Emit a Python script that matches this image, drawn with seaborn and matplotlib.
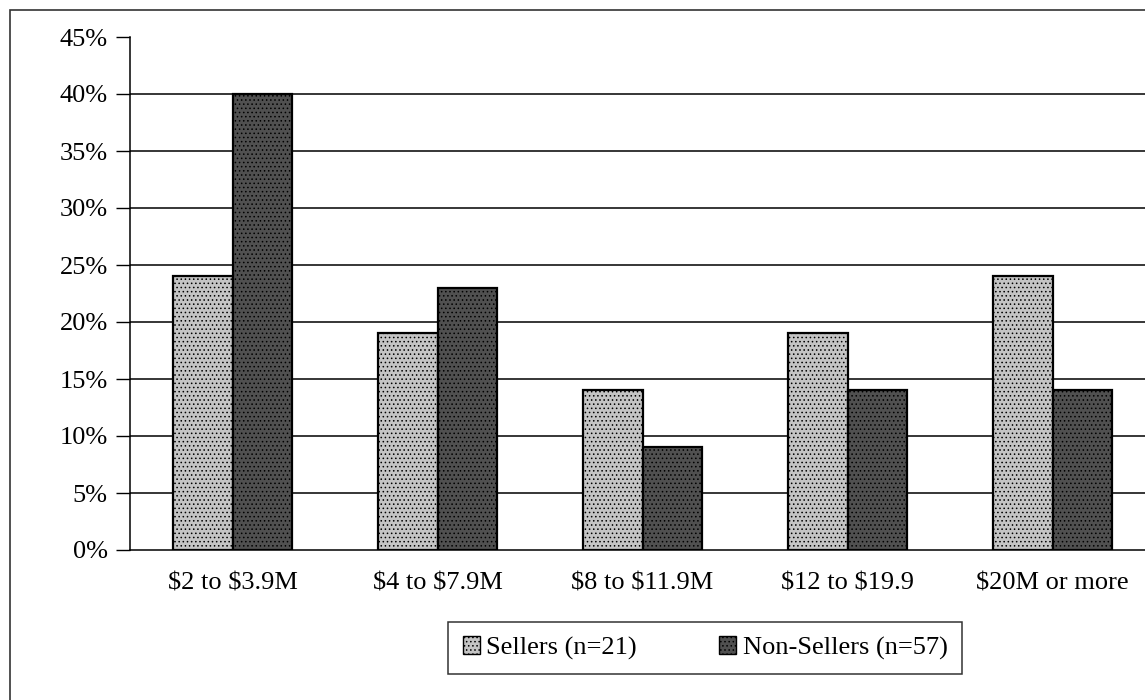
import numpy as np
import pandas as pd
import matplotlib
matplotlib.use("Agg")
import matplotlib.pyplot as plt
import matplotlib.patches as mpatches
import seaborn as sns

categories = ["$2 to $3.9M", "$4 to $7.9M", "$8 to $11.9M", "$12 to $19.9", "$20M or more"]
sellers = [24, 19, 14, 19, 24]
non_sellers = [40, 23, 9, 14, 14]
series_names = ["Sellers (n=21)", "Non-Sellers (n=57)"]
y_ticks = [0, 5, 10, 15, 20, 25, 30, 35, 40, 45]

df = pd.DataFrame({
    "category": categories * 2,
    "value": sellers + non_sellers,
    "series": [series_names[0]] * len(categories) + [series_names[1]] * len(categories),
})

sns.set_theme(style="white")
plt.rcParams["font.family"] = ["Liberation Serif", "DejaVu Serif"]
plt.rcParams["text.parse_math"] = False
plt.rcParams["text.color"] = "black"
plt.rcParams["xtick.labelcolor"] = "black"
plt.rcParams["ytick.labelcolor"] = "black"
plt.rcParams["hatch.color"] = "#7a7a7a"
plt.rcParams["hatch.linewidth"] = 0.6
FS = 19

fig = plt.figure(figsize=(11.45, 7), dpi=100)
W, H = 1145, 700
# plot area: y axis at x=130, 0% at y=550, 45% at y=37; runs off the right edge
ax = fig.add_axes([130 / W, 1 - 550 / H, 1025 / W, 513 / H])

sns.barplot(data=df, x="category", y="value", hue="series",
            palette=["#c4c4c4", "#505050"], width=0.576, gap=0,
            edgecolor="black", linewidth=1.6, saturation=1, ax=ax)

# stipple texture like the scanned original
for bar in ax.patches:
    bar.set_hatch("....")

ax.set_xlim(-0.5, len(categories) - 0.5)
ax.set_ylim(0, 45)
ax.set_yticks(y_ticks)
ax.set_yticklabels([f"{t}%" for t in y_ticks], fontsize=FS)
ax.set_xticks(range(len(categories)))
ax.set_xticklabels(categories, fontsize=FS)
ax.set_xticks(np.arange(-0.5, len(categories), 1), minor=True)
ax.tick_params(axis="x", which="major", length=0, pad=16)
ax.tick_params(axis="x", which="minor", length=6, width=1, direction="out", color="black")
ax.tick_params(axis="y", length=10, width=1, direction="out", color="black", pad=6, left=True)
ax.set_xlabel("")
ax.set_ylabel("")

for y in y_ticks[1:-1]:
    ax.axhline(y, color="black", linewidth=1.1, zorder=0)

for s in ["top", "right"]:
    ax.spines[s].set_visible(False)
for s in ["left", "bottom"]:
    ax.spines[s].set_color("black")
    ax.spines[s].set_linewidth(1.1)

handles = [mpatches.Patch(facecolor=c, edgecolor="black", hatch="....", label=n)
           for c, n in zip(["#c4c4c4", "#505050"], series_names)]
ax.legend(handles=handles, loc="center", bbox_to_anchor=(705 / W, 1 - 648 / H),
          bbox_transform=fig.transFigure, ncol=2, fontsize=FS, frameon=True,
          fancybox=False, edgecolor="black", handlelength=0.65, handleheight=0.65,
          handletextpad=0.25, columnspacing=3.1, borderpad=0.55, borderaxespad=0)
ax.get_legend().get_frame().set_linewidth(1.1)

# outer chart frame
fig.patches.append(mpatches.Rectangle((10 / W, -0.1), 1.2, 1 - 10 / H + 0.1,
                                      transform=fig.transFigure, fill=False,
                                      edgecolor="#333333", linewidth=1.2))

fig.savefig("out.png", dpi=100)
